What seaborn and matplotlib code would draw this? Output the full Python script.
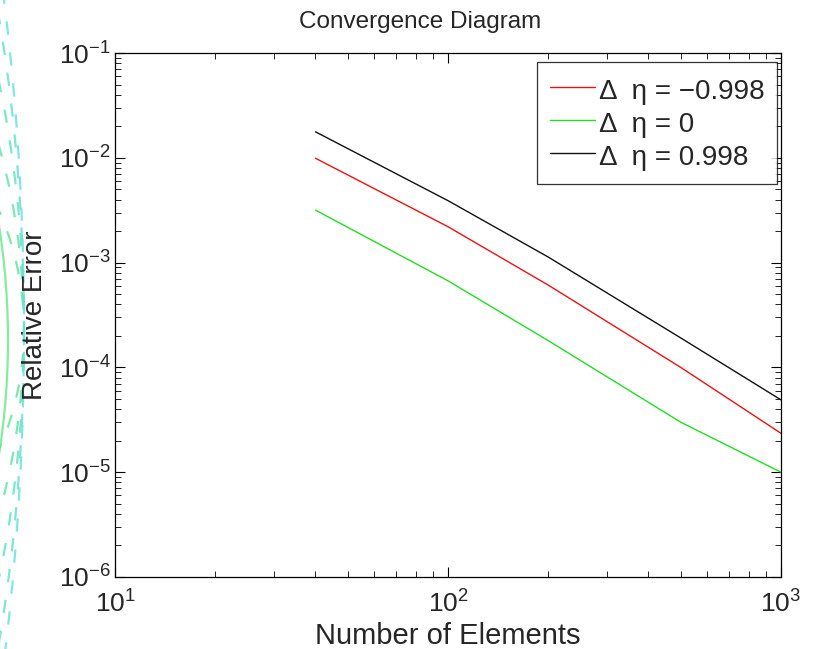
import numpy as np
import pandas as pd
import matplotlib
matplotlib.use("Agg")
import matplotlib.pyplot as plt
from matplotlib.patches import Ellipse
from matplotlib.ticker import LogLocator, NullFormatter
import seaborn as sns

# Données
n_elements = [40, 100, 200, 500, 1000]
err_neg = [9.9e-3, 2.2e-3, 6.1e-4, 1.0e-4, 2.35e-5]    # delta eta = -0.998
err_zero = [3.17e-3, 6.7e-4, 1.8e-4, 3.0e-5, 1.0e-5]  # delta eta = 0
err_pos = [1.77e-2, 3.9e-3, 1.13e-3, 1.91e-4, 4.9e-5]  # delta eta = 0.998
labels = ["Δ  η = −0.998", "Δ  η = 0", "Δ  η = 0.998"]
colors = ["#ee1111", "#22dd22", "#111111"]

df = pd.DataFrame({
    "N": n_elements * 3,
    "err": err_neg + err_zero + err_pos,
    "case": [labels[0]] * 5 + [labels[1]] * 5 + [labels[2]] * 5,
})

sns.set_style("ticks")
plt.rcParams["font.family"] = ["Liberation Sans", "DejaVu Sans"]
plt.rcParams["mathtext.fontset"] = "custom"
plt.rcParams["mathtext.rm"] = "Liberation Sans"
plt.rcParams["mathtext.it"] = "Liberation Sans"

fig = plt.figure(figsize=(8.14, 6.49), dpi=100)

# Arcs de fond (débordement d'une autre figure à gauche)
bg = fig.add_axes([0, 0, 1, 1], zorder=-1)
bg.set_xlim(0, 814)
bg.set_ylim(649, 0)
bg.axis("off")
half_heights = [260, 400, 540, 680, 800]
arc_cols = sns.blend_palette(["#66e49a", "#6ae2e2"], len(half_heights))
for b, c in zip(half_heights, arc_cols):
    bg.add_patch(Ellipse((-200, 330), 2 * 224, 2 * b, fill=False, lw=1.6,
                         ls=(0, (6, 8)), color=c, alpha=0.85))
bg.add_patch(Ellipse((-725, 340), 2 * 733, 2 * 733, fill=False, lw=1.6,
                     color="#70e890", alpha=0.85))

ax = fig.add_axes([115 / 814, 1 - 577 / 649, 666 / 814, 524 / 649])
sns.lineplot(data=df, x="N", y="err", hue="case", palette=colors,
             hue_order=labels, linewidth=1.0, ax=ax)
ax.set_xscale("log")
ax.set_yscale("log")
ax.set_xlim(10, 1000)
ax.set_ylim(1e-6, 1e-1)

ax.xaxis.set_major_locator(LogLocator(base=10, numticks=10))
ax.yaxis.set_major_locator(LogLocator(base=10, numticks=10))
ax.xaxis.set_minor_locator(LogLocator(base=10, subs=np.arange(2, 10), numticks=20))
ax.yaxis.set_minor_locator(LogLocator(base=10, subs=np.arange(2, 10), numticks=20))
ax.xaxis.set_minor_formatter(NullFormatter())
ax.yaxis.set_minor_formatter(NullFormatter())
ax.tick_params(which="both", direction="in", top=True, right=True, color="black")
ax.tick_params(which="major", length=7, width=0.8, labelsize=19)
ax.tick_params(which="minor", length=4, width=0.6)
ax.tick_params(axis="x", which="major", pad=10)
ax.tick_params(axis="y", which="major", pad=3)
for s in ax.spines.values():
    s.set_visible(True)
    s.set_color("black")
    s.set_linewidth(0.9)

ax.set_title("Convergence Diagram", fontsize=17.5, pad=18, x=0.458)
ax.set_xlabel("Number of Elements", fontsize=21, labelpad=3)
ax.set_ylabel("Relative Error", fontsize=20, labelpad=8)

handles, labs = ax.get_legend_handles_labels()
leg = ax.legend(handles, labs, loc="upper right", fontsize=20, frameon=True,
                fancybox=False, edgecolor="black", handlelength=1.62,
                handleheight=1.25, handletextpad=0.15, borderpad=0.45,
                labelspacing=0.12,
                bbox_to_anchor=(1 - 4 / 666, 1 - 9 / 524), borderaxespad=0)
leg.get_frame().set_linewidth(0.9)

fig.savefig("out.png", dpi=100)
